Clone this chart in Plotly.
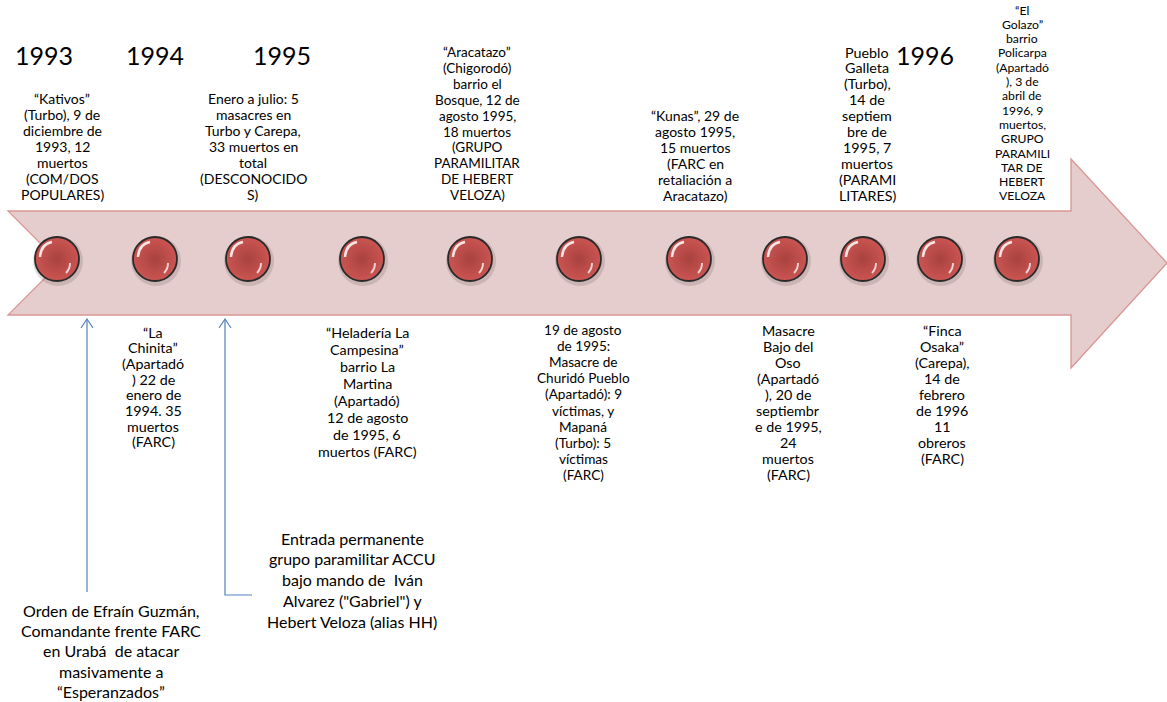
import plotly.graph_objects as go

# ---------------- data ----------------
years = ["1993", "1994", "1995", "1996"]
year_x = [44, 155, 282, 925]

event_x = [57, 155, 248, 362, 470, 579, 689, 785, 863, 940, 1017]

top_blocks = [
    ["“Kativos”", "(Turbo), 9 de", "diciembre de", "1993, 12", "muertos", "(COM/DOS", "POPULARES)"],
    ["Enero a julio: 5", "masacres en", "Turbo y Carepa,", "33 muertos en", "total", "(DESCONOCIDO", "S)"],
    ["“Aracatazo”", "(Chigorodó)", "barrio el", "Bosque, 12 de", "agosto 1995,", "18 muertos", "(GRUPO",
     "PARAMILITAR", "DE HEBERT", "VELOZA)"],
    ["“Kunas”, 29 de", "agosto 1995,", "15 muertos", "(FARC en", "retaliación a", "Aracatazo)"],
    ["Pueblo", "Galleta", "(Turbo),", "14 de", "septiem", "bre de", "1995, 7", "muertos", "(PARAMI", "LITARES)"],
    ["“El", "Golazo”", "barrio", "Policarpa", "(Apartadó", "), 3 de", "abril de", "1996, 9", "muertos,",
     "GRUPO", "PARAMILI", "TAR DE", "HEBERT", "VELOZA"],
]
top_pos = [(62, 98, 16.0), (253, 98, 16.0), (477, 52, 15.9), (695, 115, 16.0), (867, 52, 15.9), (1022, 10, 14.3)]
top_size = [14, 14, 13.5, 14, 14.3, 12.2]

bottom_blocks = [
    ["“La", "Chinita”", "(Apartadó", ") 22 de", "enero de", "1994. 35", "muertos", "(FARC)"],
    ["“Heladería La", "Campesina”", "barrio La", "Martina", "(Apartadó)", "12 de agosto", "de 1995, 6", "muertos (FARC)"],
    ["19 de agosto", "de 1995:", "Masacre de", "Churidó Pueblo", "(Apartadó): 9", "víctimas, y", "Mapaná",
     "(Turbo): 5", "víctimas", "(FARC)"],
    ["Masacre", "Bajo del", "Oso", "(Apartadó", "), 20 de", "septiembr", "e de 1995,", "24", "muertos", "(FARC)"],
    ["“Finca", "Osaka”", "(Carepa),", "14 de", "febrero", "de 1996", "11", "obreros", "(FARC)"],
]
bottom_pos = [(153, 332, 15.7), (367, 332, 17.1), (583, 330, 16.1), (788, 330, 16.1), (942, 330, 16.0)]
bottom_size = [14.3, 14.3, 13.6, 14.3, 14.3]

note_blocks = [
    ["Orden de Efraín Guzmán,", "Comandante frente FARC", "en Urabá  de atacar", "masivamente a", "“Esperanzados”"],
    ["Entrada permanente", "grupo paramilitar ACCU", "bajo mando de  Iván", "Alvarez (\"Gabriel\") y", "Hebert Veloza (alias HH)"],
]
note_pos = [(111, 610, 20.4), (352, 538, 20.8)]

FONT = "Lato"
W, H = 1167, 702

fig = go.Figure()

shapes = []
# big arrow
shapes.append(dict(
    type="path", xref="x", yref="y",
    path="M 8,211 L 1071,211 L 1071,159 L 1167,263 L 1071,368 L 1071,315 L 8,315 L 60,263 Z",
    fillcolor="#E6CDCD", line=dict(color="#D99694", width=1.3), layer="below"))

# blue connector lines
blue = "#4F81BD"
shapes.append(dict(type="path", xref="x", yref="y", path="M 87,319 L 87,592",
                   line=dict(color=blue, width=1.2)))
shapes.append(dict(type="path", xref="x", yref="y", path="M 81,328 L 87,319 L 93,328",
                   line=dict(color=blue, width=1.2)))
shapes.append(dict(type="path", xref="x", yref="y", path="M 225,319 L 225,595 L 252,595",
                   line=dict(color=blue, width=1.2)))
shapes.append(dict(type="path", xref="x", yref="y", path="M 219,328 L 225,319 L 231,328",
                   line=dict(color=blue, width=1.2)))

cy = 259
# circles: shadow, body
fig.add_trace(go.Scatter(
    x=[x + 1 for x in event_x], y=[cy + 2] * len(event_x), mode="markers",
    marker=dict(size=50, color="rgba(0,0,0,0.12)", line=dict(width=0)),
    hoverinfo="skip", showlegend=False))
fig.add_trace(go.Scatter(
    x=event_x, y=[cy] * len(event_x), mode="markers",
    marker=dict(size=44, color="#CB5552", line=dict(color="#2A2A2A", width=1.8),
                gradient=dict(type="radial", color="#A9423F")),
    hoverinfo="skip", showlegend=False))

# glossy highlights
for cx in event_x:
    shapes.append(dict(type="path", xref="x", yref="y",
                       path=f"M {cx-17},{cy-2} Q {cx-16},{cy-15} {cx-5},{cy-17}",
                       line=dict(color="rgba(255,255,255,0.85)", width=2.5)))
    shapes.append(dict(type="path", xref="x", yref="y",
                       path=f"M {cx+13},{cy+4} Q {cx+13},{cy+10} {cx+9},{cy+14}",
                       line=dict(color="rgba(255,255,255,0.75)", width=2)))

annotations = []
for yr, x in zip(years, year_x):
    annotations.append(dict(x=x, y=55, text=yr, showarrow=False, xanchor="center", yanchor="middle",
                            font=dict(family=FONT, size=25, color="#000000")))


def add_block(lines, pos, size):
    cx, y0, sp = pos
    for i, line in enumerate(lines):
        annotations.append(dict(x=cx, y=y0 + i * sp, text=line, showarrow=False,
                                xanchor="center", yanchor="middle",
                                font=dict(family=FONT, size=size, color="#000000")))


for lines, pos, s in zip(top_blocks, top_pos, top_size):
    add_block(lines, pos, s)
for lines, pos, s in zip(bottom_blocks, bottom_pos, bottom_size):
    add_block(lines, pos, s)
for lines, pos in zip(note_blocks, note_pos):
    add_block(lines, pos, 16)

fig.update_layout(
    width=W, height=H, margin=dict(l=0, r=0, t=0, b=0),
    paper_bgcolor="white", plot_bgcolor="white",
    xaxis=dict(range=[0, W], visible=False, fixedrange=True),
    yaxis=dict(range=[H, 0], visible=False, fixedrange=True),
    shapes=shapes, annotations=annotations, showlegend=False)

fig.write_html("out.html", config={"displayModeBar": False},
               post_script="document.body.style.margin='0';document.body.style.overflow='hidden';")
